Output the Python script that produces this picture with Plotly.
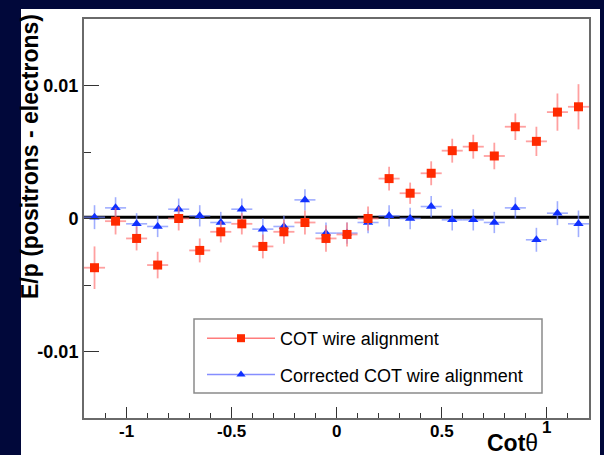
import plotly.graph_objects as go

# ---------------- data ----------------
bin_centers = [-1.15, -1.05, -0.95, -0.85, -0.75, -0.65, -0.55, -0.45, -0.35, -0.25, -0.15, -0.05,
               0.05, 0.15, 0.25, 0.35, 0.45, 0.55, 0.65, 0.75, 0.85, 0.95, 1.05, 1.15]
bin_half_width = [0.05] * 24

cot_y = [-0.0037, -0.0002, -0.0015, -0.0035, 0.0000, -0.0024, -0.0010, -0.0004, -0.0021, -0.0010, -0.0003, -0.0015,
         -0.0012, 0.0000, 0.0030, 0.0019, 0.0034, 0.0051, 0.0054, 0.0047, 0.0069, 0.0058, 0.0080, 0.0084]
cot_err = [0.0016, 0.0010, 0.0009, 0.0010, 0.0009, 0.0009, 0.0008, 0.0008, 0.0009, 0.0009, 0.0009, 0.0010,
           0.0009, 0.0009, 0.0009, 0.0008, 0.0009, 0.0009, 0.0009, 0.0010, 0.0010, 0.0011, 0.0014, 0.0017]

corr_y = [0.0001, 0.0008, -0.0004, -0.0006, 0.0007, 0.0002, -0.0003, 0.0007, -0.0008, -0.0006, 0.0014, -0.0011,
          -0.0011, -0.0003, 0.0002, 0.0000, 0.0009, -0.0001, -0.0001, -0.0003, 0.0008, -0.0016, 0.0004, -0.0004]
corr_err = [0.0009, 0.0008, 0.0008, 0.0008, 0.0008, 0.0008, 0.0008, 0.0008, 0.0008, 0.0008, 0.0008, 0.0008,
            0.0008, 0.0008, 0.0008, 0.0008, 0.0008, 0.0008, 0.0008, 0.0008, 0.0008, 0.0009, 0.0009, 0.0010]

fit_x = [-1.2, 1.2]
fit_y = [0.0001, 0.0001]

x_tick_vals = [-1, -0.5, 0, 0.5, 1]
x_tick_text = ["-1", "-0.5", "0", "0.5", "1"]
y_tick_vals = [-0.01, 0, 0.01]
y_tick_text = ["-0.01", "0", "0.01"]

series_names = ["COT wire alignment", "Corrected COT wire alignment"]

# ---------------- style ----------------
NAVY = "#01083a"
RED = "#ff2a00"
RED_ERR = "rgba(255,120,120,0.7)"
BLUE = "#1030ff"
BLUE_ERR = "rgba(120,140,255,0.7)"
AXIS = "#6a6a6a"
FONT = "Liberation Sans, Arial, Helvetica, sans-serif"

fig = go.Figure()

# fit line
fig.add_trace(go.Scatter(x=fit_x, y=fit_y, mode="lines",
                         line=dict(color="black", width=3), showlegend=False, hoverinfo="skip"))

# corrected (blue)
fig.add_trace(go.Scatter(
    x=bin_centers, y=corr_y, mode="markers",
    marker=dict(symbol="triangle-up", size=9, color=BLUE, line=dict(width=0)),
    error_y=dict(type="data", array=corr_err, color=BLUE_ERR, thickness=1.6, width=0),
    error_x=dict(type="data", array=bin_half_width, color=BLUE_ERR, thickness=1.6, width=0),
    showlegend=False))

# COT (red)
fig.add_trace(go.Scatter(
    x=bin_centers, y=cot_y, mode="markers",
    marker=dict(symbol="square", size=9, color=RED, line=dict(width=0)),
    error_y=dict(type="data", array=cot_err, color=RED_ERR, thickness=1.8, width=0),
    error_x=dict(type="data", array=bin_half_width, color=RED_ERR, thickness=1.8, width=0),
    showlegend=False))

# legend entries
fig.add_trace(go.Scatter(x=[None], y=[None], mode="lines+markers", name=series_names[0],
                         line=dict(color="rgba(255,110,110,0.9)", width=1.5),
                         marker=dict(symbol="square", size=8, color=RED), legendgroup="a"))
fig.add_trace(go.Scatter(x=[None], y=[None], mode="lines+markers", name=series_names[1],
                         line=dict(color="rgba(120,130,255,0.9)", width=1.5),
                         marker=dict(symbol="triangle-up", size=8, color=BLUE), legendgroup="b"))

# plot area: x 84..589, y 19..418
L, R, T, B = 84, 589, 19, 418
W, H = R - L, B - T
def px(x):
    return (x - L) / W
def py(y):
    return (B - y) / H

shapes = [
    dict(type="rect", xref="paper", yref="paper", x0=px(21), x1=px(600), y0=py(470), y1=py(9),
         fillcolor="white", line=dict(width=0), layer="below"),
    dict(type="rect", xref="paper", yref="paper", x0=px(194), x1=px(542), y0=py(393), y1=py(319),
         fillcolor="white", line=dict(color="#8a8a8a", width=1.5), layer="above"),
]

annotations = []
for v, t in zip(x_tick_vals, x_tick_text):
    annotations.append(dict(x=v, y=0, xref="x", yref="paper", text="<b>%s</b>" % t, showarrow=False,
                            xanchor="center", yanchor="middle", yshift=-13 if v != 1 else -9,
                            font=dict(family=FONT, size=17, color="black")))
annotations.append(dict(x=px(30), y=py(157), xref="paper", yref="paper", textangle=-90,
                        text="<b>E/p (positrons - electrons)</b>", showarrow=False,
                        xanchor="center", yanchor="middle",
                        font=dict(family=FONT, size=23, color="black")))
annotations.append(dict(x=px(512), y=py(443), xref="paper", yref="paper",
                        text="<b>Cot</b>θ", showarrow=False, xanchor="center", yanchor="middle",
                        font=dict(family=FONT, size=23, color="black")))

fig.update_layout(
    width=604, height=455,
    margin=dict(l=L, r=604 - R, t=T, b=455 - B, pad=0),
    paper_bgcolor=NAVY, plot_bgcolor="white",
    shapes=shapes, annotations=annotations,
    showlegend=True,
    legend=dict(x=px(202), y=py(320), xanchor="left", yanchor="top",
                bgcolor="rgba(0,0,0,0)", borderwidth=0, itemwidth=68,
                tracegroupgap=10, traceorder="grouped",
                font=dict(family=FONT, size=18, color="black")),
    xaxis=dict(range=[-1.2, 1.2], showgrid=False, zeroline=False,
               showline=True, linecolor=AXIS, linewidth=2, mirror=True,
               ticks="inside", ticklen=11, tickwidth=1.3, tickcolor="#333",
               tickmode="array", tickvals=x_tick_vals, showticklabels=False,
               minor=dict(dtick=0.1, tick0=0, ticks="inside", ticklen=5, tickwidth=1.3, tickcolor="#333")),
    yaxis=dict(range=[-0.015, 0.015], showgrid=False, zeroline=False,
               showline=True, linecolor=AXIS, linewidth=2, mirror=True,
               ticks="inside", ticklen=15, tickwidth=1.3, tickcolor="#333",
               tickmode="array", tickvals=y_tick_vals, ticktext=y_tick_text,
               tickfont=dict(family=FONT, size=18, color="black", weight="bold"),
               minor=dict(dtick=0.005, tick0=0, ticks="inside", ticklen=7, tickwidth=1.3, tickcolor="#333")),
)

fig.write_html("out.html")
